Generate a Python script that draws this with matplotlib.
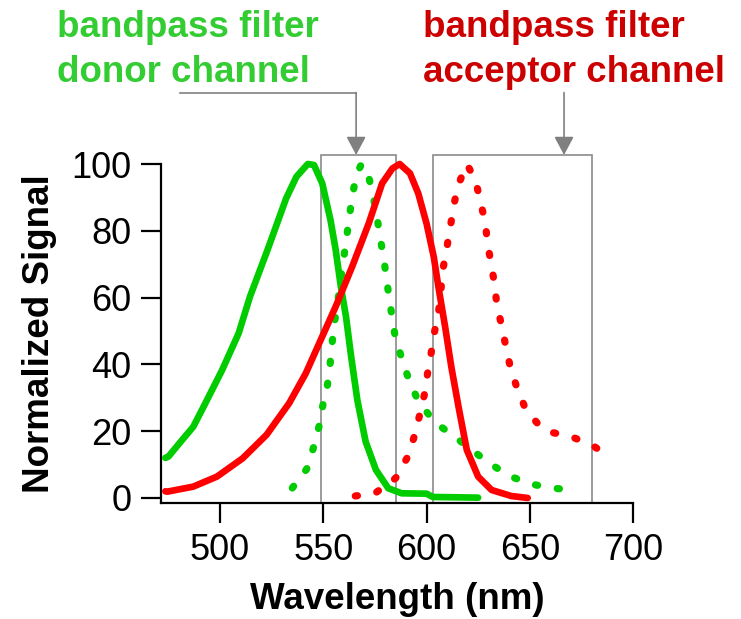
import matplotlib
matplotlib.use('Agg')
import matplotlib.pyplot as plt
from matplotlib.patches import Rectangle

plt.rcParams['font.family'] = ['Liberation Sans', 'DejaVu Sans']

# donor emission (solid green)
donor_em_wl = [473.5, 475, 481, 487, 492, 501, 509, 514.5, 523, 532, 537, 542.5,
               545.5, 549.5, 553.5, 556, 558.5, 561, 563.5, 566.5, 570.5, 575.5,
               581.5, 588, 600, 603, 615, 625]
donor_em = [12, 12.4, 16.9, 21.3, 27.3, 38.3, 49.3, 60.3, 74.3, 89.7, 96.2, 100,
            99.7, 94.2, 83.2, 74.3, 63.3, 54.3, 42.3, 29.3, 16.9, 8.4,
            2.9, 1.4, 1.3, 0.3, 0.2, 0.1]

# acceptor emission (solid red)
acc_em_wl = [473.5, 474.5, 487, 498.5, 511, 522.5, 533.5, 541.5, 548, 556, 564,
             572, 578.5, 583.5, 587, 592, 596, 600, 603.5, 606, 609, 612, 615.5,
             619.5, 625, 631.5, 641, 649]
acc_em = [2, 1.9, 3.4, 6.4, 11.9, 18.9, 28.4, 37.3, 46.3, 57.3, 69.3,
          82.2, 94.2, 98.7, 100, 97.2, 91.2, 82.2, 72.2, 62.3, 51.3, 39.3, 27.3,
          14.4, 6.4, 2.4, 0.6, 0]

# green dotted curve
donor_dot_wl = [535, 542, 545.3, 548, 549.8, 552, 553.3, 554.3, 555.5, 557, 559.8,
                561.2, 562.5, 564, 566, 568.5, 571.3, 573.7, 575.8, 577.3, 579,
                580.5, 581.8, 583.3, 585, 588.3, 591.5, 595.8, 603.7, 613.5, 623.4,
                630, 640, 650.5, 660.5, 670.5]
donor_dot = [3, 8.7, 15.2, 21.6, 27.8, 33.8, 40, 46.5, 52.8, 58.8, 71.4,
             77.5, 83.7, 90.2, 96.7, 100, 98, 91.7, 85.2, 78.7, 72.8,
             66.3, 60.3, 54.3, 47.6, 41.3, 35.3, 29.3, 22.8, 18.4, 13.7,
             10.6, 6.6, 4.2, 3, 2.4]

# red dotted curve
acc_dot_wl = [565.5, 575, 585, 590.5, 593.8, 596.5, 598.9, 600.5, 602.3, 603.8,
              605.8, 606.9, 607.9, 609.8, 611.4, 613, 614.9, 619.5, 623.7, 626.1,
              628.5, 629.5, 631.4, 633, 634.1, 636.5, 638.6, 640.7, 643.9, 648.2,
              655.8, 660.2, 669.9, 680, 690.4]
acc_dot = [0.6, 1.4, 5.9, 11.9, 17.9, 24.4, 30.8, 37.3, 43.6, 49.5,
           55.5, 61.8, 68.3, 74.8, 80.7, 86.7, 93, 100, 95.2, 88.7,
           82.4, 76.3, 69.8, 63.8, 57.6, 51.3, 44.8, 38.8, 32.8, 26.3,
           20.9, 19.7, 18.4, 15.9, 11.6]

# filter bands (nm)
donor_band = (548.8, 585.2)
acc_band = (603.3, 680)

W, H = 741, 619
fig = plt.figure(figsize=(W / 100, H / 100), dpi=100)
ax = fig.add_axes([161 / W, 1 - 503 / H, 472 / W, 339 / H])

green = '#00cc00'
red = '#ff0000'
gray = '#8a8a8a'

# boxes for filter bands
for lo, hi in (donor_band, acc_band):
    ax.add_patch(Rectangle((lo, -1.5), hi - lo, 104.2, fill=False,
                           edgecolor=gray, lw=1.2, clip_on=False, zorder=1))

ax.plot(donor_em_wl, donor_em, color=green, lw=4.8, solid_capstyle='round',
        solid_joinstyle='round', clip_on=False, zorder=3)
ax.plot(acc_em_wl, acc_em, color=red, lw=4.8, solid_capstyle='round',
        solid_joinstyle='round', clip_on=False, zorder=3)
ax.plot(donor_dot_wl, donor_dot, color=green, lw=5.2, dashes=(0.3, 2.75),
        dash_capstyle='round', clip_on=False, zorder=2)
ax.plot(acc_dot_wl, acc_dot, color=red, lw=5.2, dashes=(0.3, 2.75),
        dash_capstyle='round', clip_on=False, zorder=2)

# arrows to the boxes
arrow_kw = dict(arrowstyle='-|>,head_length=0.75,head_width=0.4', mutation_scale=15,
                color='#808080', lw=1.2, shrinkA=0, shrinkB=0)
ax.plot([480.6, 565.9], [121.4, 121.4], color='#808080', lw=1.2, clip_on=False)
ax.annotate('', xy=(565.9, 102.7), xytext=(565.9, 121.4), arrowprops=arrow_kw,
            annotation_clip=False)
ax.annotate('', xy=(666.6, 102.7), xytext=(666.6, 121.4), arrowprops=arrow_kw,
            annotation_clip=False)

ax.set_xlim(471.4, 700)
ax.set_ylim(-1.5, 100)
ax.set_xticks([500, 550, 600, 650, 700])
ax.set_yticks([0, 20, 40, 60, 80, 100])
for s in ('top', 'right'):
    ax.spines[s].set_visible(False)
for s in ('left', 'bottom'):
    ax.spines[s].set_linewidth(1.6)
ax.tick_params(direction='out', length=14.4, width=1.6, labelsize=26)
ax.tick_params(axis='x', pad=7.5)
ax.tick_params(axis='y', pad=7)
ax.set_xlabel('Wavelength (nm)', fontsize=26.5, fontweight='bold', labelpad=10)
ax.set_ylabel('Normalized Signal', fontsize=26.5, fontweight='bold', labelpad=10)

def ftext(x, y, s, c):
    fig.text(x / W, 1 - y / H, s, color=c, fontsize=26.5, fontweight='bold',
             va='baseline', ha='left')

ftext(57, 37, 'bandpass filter', '#33cc33')
ftext(57, 82, 'donor channel', '#33cc33')
ftext(423, 37, 'bandpass filter', '#cc0000')
ftext(423, 82, 'acceptor channel', '#cc0000')

fig.savefig('out.png', dpi=100)
